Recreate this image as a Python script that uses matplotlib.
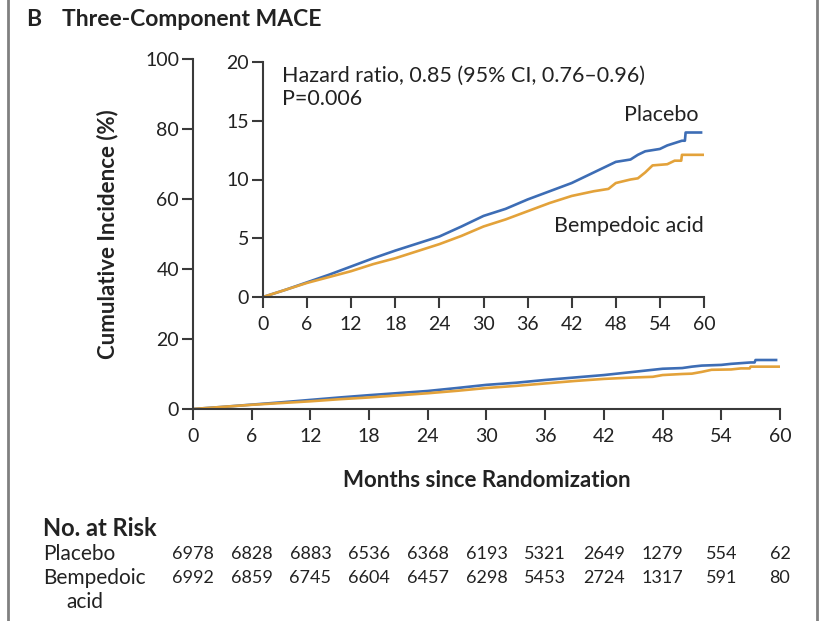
import matplotlib
matplotlib.use("Agg")
import matplotlib.pyplot as plt
from matplotlib.lines import Line2D

plt.rcParams['font.family'] = ['Lato', 'DejaVu Sans']

# curves (months, cumulative incidence %)
placebo_m = [0, 3, 6, 9, 12, 15, 18, 21, 24, 27, 30, 33, 36, 39, 42, 45, 48, 50, 51, 52, 54, 55, 56, 57, 57.4, 57.5, 59.6]
placebo_y = [0, 0.6, 1.25, 1.9, 2.6, 3.3, 3.95, 4.55, 5.15, 6.0, 6.9, 7.5, 8.3, 9.0, 9.7, 10.6, 11.5, 11.7, 12.1, 12.4, 12.6, 12.9, 13.1, 13.3, 13.3, 14.0, 14.0]
bempe_m = [0, 3, 6, 9, 12, 15, 18, 21, 24, 27, 30, 33, 36, 39, 42, 45, 47, 48, 50, 51, 52, 53, 55, 56, 56.9, 57, 60]
bempe_y = [0, 0.6, 1.2, 1.7, 2.2, 2.8, 3.3, 3.9, 4.5, 5.2, 6.0, 6.6, 7.3, 8.0, 8.6, 9.0, 9.2, 9.7, 10.0, 10.1, 10.6, 11.2, 11.3, 11.6, 11.6, 12.1, 12.1]

risk_months = [0, 6, 12, 18, 24, 30, 36, 42, 48, 54, 60]
risk_placebo = [6978, 6828, 6883, 6536, 6368, 6193, 5321, 2649, 1279, 554, 62]
risk_bempe = [6992, 6859, 6745, 6604, 6457, 6298, 5453, 2724, 1317, 591, 80]

blue = '#3d6db5'
orange = '#e3a23a'
dark = '#3a3a3a'
txt = '#222222'

fig = plt.figure(figsize=(8.2, 6.21), dpi=100)
W, H = 820, 621

def px(x0, y0, x1, y1):
    return [x0 / W, 1 - y1 / H, (x1 - x0) / W, (y1 - y0) / H]

def style(ax, ymax, step):
    for s in ['top', 'right']:
        ax.spines[s].set_visible(False)
    for s in ['left', 'bottom']:
        ax.spines[s].set_color(dark)
        ax.spines[s].set_linewidth(1.5)
    ax.set_xlim(0, 60)
    ax.set_ylim(0, ymax)
    ax.set_xticks(range(0, 61, 6))
    ax.set_yticks(range(0, ymax + 1, step))
    ax.tick_params(direction='out', length=8, width=1.5, color=dark,
                   labelsize=14, labelcolor=txt)
    ax.tick_params(axis='x', pad=6)
    ax.tick_params(axis='y', pad=2)
    ax.margins(0)

ax = fig.add_axes(px(193, 59, 780, 409))
style(ax, 100, 20)
ax.plot(placebo_m, placebo_y, color=blue, lw=1.9)
ax.plot(bempe_m, bempe_y, color=orange, lw=1.9)
ax.set_ylabel('Cumulative Incidence (%)', fontsize=16, fontweight='bold', color=txt)
ax.yaxis.set_label_coords(-0.128, 0.5)
ax.set_xlabel('Months since Randomization', fontsize=16, fontweight='bold', color=txt)
ax.xaxis.set_label_coords(0.5, -0.175)

ins = fig.add_axes(px(263, 62, 704, 297))
ins.set_facecolor('white')
style(ins, 20, 5)
ins.plot(placebo_m, placebo_y, color=blue, lw=1.9)
ins.plot(bempe_m, bempe_y, color=orange, lw=1.9)
ins.text(0.043, 0.985, 'Hazard ratio, 0.85 (95% CI, 0.76\u20130.96)\nP=0.006',
         transform=ins.transAxes, ha='left', va='top', fontsize=15.5,
         linespacing=1.2, color=txt)
ins.text(59.3, 15.5, 'Placebo', ha='right', va='center', fontsize=15.5, color=txt)
ins.text(60, 6.0, 'Bempedoic acid', ha='right', va='center', fontsize=15.5, color=txt)

fig.text(26 / W, 1 - 20 / H, 'B', fontsize=16.5, fontweight='bold', va='center', color=txt)
fig.text(62 / W, 1 - 20 / H, 'Three-Component MACE', fontsize=16.5, fontweight='bold', va='center', color=txt)

# number at risk table
fig.text(43 / W, 1 - 528 / H, 'No. at Risk', fontsize=17, fontweight='bold', va='center', color=txt)
fig.text(43 / W, 1 - 554 / H, 'Placebo', fontsize=15, va='center', color=txt)
fig.text(43 / W, 1 - 578 / H, 'Bempedoic', fontsize=15, va='center', color=txt)
fig.text(66 / W, 1 - 602 / H, 'acid', fontsize=15, va='center', color=txt)
for m, a, b in zip(risk_months, risk_placebo, risk_bempe):
    xf = fig.transFigure.inverted().transform(ax.transData.transform((m, 0)))[0]
    fig.text(xf, 1 - 554 / H, str(a), fontsize=13, ha='center', va='center', color=txt)
    fig.text(xf, 1 - 578 / H, str(b), fontsize=13, ha='center', va='center', color=txt)

# panel frame lines
fig.add_artist(Line2D([8 / W, 8 / W], [0, 1], color='#808080', lw=2))
fig.add_artist(Line2D([817 / W, 817 / W], [0, 1], color='#808080', lw=2))

fig.savefig('out.png', dpi=100)
